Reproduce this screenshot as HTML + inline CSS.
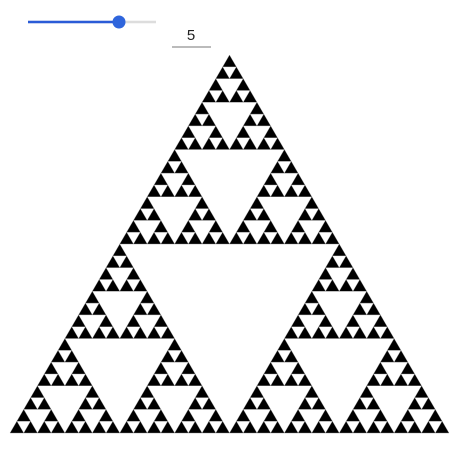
<!DOCTYPE html>
<html><head><meta charset="utf-8"><style>
body{margin:0;background:#fff;width:464px;height:450px;overflow:hidden;font-family:"Liberation Sans",sans-serif}
</style></head><body>
<svg width="464" height="450">
<g>
<line x1="28" y1="22" x2="156" y2="22" stroke="#ddd" stroke-width="2.5"/>
<line x1="28" y1="22" x2="119" y2="22" stroke="#2a5bd7" stroke-width="2.5"/>
<circle cx="119" cy="22" r="6.5" fill="#2f65dc"/>
</g>
<text x="191" y="40" font-size="15" text-anchor="middle" fill="#222">5</text>
<line x1="172" y1="47" x2="211" y2="47" stroke="#777" stroke-width="1"/>
<g id="tri"></g>
</svg>
<script>
const depth = 5;
const apex = [229.5, 55];
const baseY = 433;
const baseLeft = 10, baseRight = 449;
const g = document.getElementById('tri');
const ns = 'http://www.w3.org/2000/svg';
let parts = [];
function draw(a, b, c, d) {
  if (d === 0) {
    parts.push(`M${a[0]},${a[1]}L${b[0]},${b[1]}L${c[0]},${c[1]}Z`);
    return;
  }
  const m = (p, q) => [(p[0]+q[0])/2, (p[1]+q[1])/2];
  const ab = m(a,b), bc = m(b,c), ca = m(c,a);
  draw(a, ab, ca, d-1);
  draw(ab, b, bc, d-1);
  draw(ca, bc, c, d-1);
}
draw(apex, [baseLeft, baseY], [baseRight, baseY], depth);
const p = document.createElementNS(ns, 'path');
p.setAttribute('d', parts.join(''));
p.setAttribute('fill', '#000');
p.setAttribute('stroke', '#888');
p.setAttribute('stroke-width', '0.4');


g.appendChild(p);
</script>
</body></html>
